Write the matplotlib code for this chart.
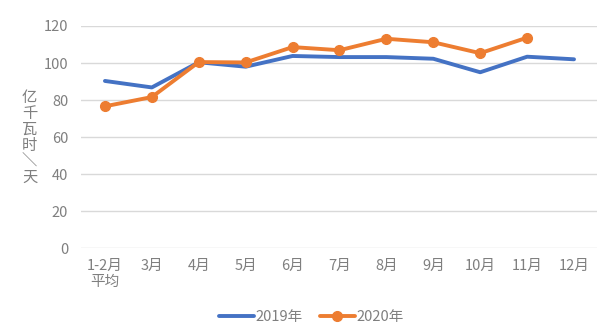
import numpy as np
import matplotlib.pyplot as plt

plt.rcParams['font.family'] = ['Noto Sans CJK SC', 'DejaVu Sans']

months = ["1-2月\n平均", "3月", "4月", "5月", "6月", "7月", "8月", "9月", "10月", "11月", "12月"]
y2019 = [90.3, 86.8, 100.4, 98.0, 103.8, 103.2, 103.2, 102.3, 95.0, 103.4, 102.0]
y2020 = [76.6, 81.6, 100.5, 100.3, 108.6, 106.9, 113.1, 111.2, 105.3, 113.7]

blue = "#4472C4"
orange = "#ED7D31"
grey = "#7F7F7F"

fig = plt.figure(figsize=(6.15, 3.29), dpi=100)
ax = fig.add_axes([0.1325, 0.246, 0.839, 0.675])

x = np.arange(len(months))
ax.plot(x, y2019, color=blue, lw=2.8, label="2019年", solid_capstyle="round", zorder=3)
ax.plot(x[:len(y2020)], y2020, color=orange, lw=2.8, marker="o", ms=7,
        label="2020年", solid_capstyle="round", zorder=4)

ax.set_xlim(-0.5, len(months) - 0.5)
ax.set_ylim(0, 120)
ax.set_yticks(range(0, 121, 20))
ax.set_xticks(x)
ax.set_xticklabels(months, linespacing=1.2)
ax.grid(axis="y", color="#D9D9D9", lw=1)
ax.set_axisbelow(True)
for s in ax.spines.values():
    s.set_visible(False)
ax.tick_params(length=0, colors=grey, labelsize=10.5)
ax.tick_params(axis="y", pad=9.5)
ax.tick_params(axis="x", pad=8)

# stacked vertical unit label
fig.text(0.048, 0.583, "亿\n千\n瓦\n时\n＼\n天", color=grey, fontsize=11,
         ha="center", va="center", linespacing=0.92)

fig.legend(loc="center", bbox_to_anchor=(0.506, 0.037), ncol=2, frameon=False,
           fontsize=10.5, labelcolor=grey, handlelength=2.4, handletextpad=0.1,
           columnspacing=1.2)

fig.savefig("out.png", dpi=100, facecolor="white")
